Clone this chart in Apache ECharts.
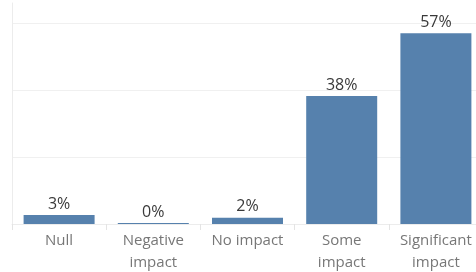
<!DOCTYPE html>
<html>
<head>
<meta charset="utf-8">
<script src="https://cdn.jsdelivr.net/npm/echarts@6/dist/echarts.min.js"></script>
<style>
  html, body { margin: 0; padding: 0; background: #fff; }
  #chart { width: 476px; height: 272px; }
</style>
</head>
<body>
<div id="chart"></div>
<script>
// categories and share of answers (percent)
const categories = ['Null', 'Negative\nimpact', 'No impact', 'Some\nimpact', 'Significant\nimpact']
const shares = [2.7, 0.3, 1.9, 38.2, 57.0]
const yTicks = [0, 20, 40, 60]

const barColor = '#5681ad'
const fontFamily = '"Open Sans", "Noto Sans", sans-serif'

const chart = echarts.init(document.getElementById('chart'))

chart.setOption({
  animation: false,
  grid: {
    left: 12,
    width: 471,
    top: 3,
    bottom: 48,
    outerBoundsMode: 'none',
    containLabel: false
  },
  xAxis: {
    type: 'category',
    data: categories,
    axisLine: { show: true, lineStyle: { color: '#ececec' } },
    axisTick: { show: true, length: 6, lineStyle: { color: '#e4e4e4' } },
    axisLabel: {
      color: '#777',
      fontFamily: fontFamily,
      fontSize: 15,
      lineHeight: 22,
      margin: 6
    }
  },
  yAxis: {
    type: 'value',
    min: 0,
    max: 66,
    interval: yTicks[1] - yTicks[0],
    axisLine: { show: true, lineStyle: { color: '#ececec' } },
    axisTick: { show: false },
    axisLabel: { show: false },
    splitLine: {
      show: true,
      showMinLine: false,
      showMaxLine: false,
      lineStyle: { color: '#f0f0f0' }
    }
  },
  series: [{
    type: 'bar',
    data: shares,
    barWidth: 71,
    itemStyle: { color: barColor },
    label: {
      show: true,
      position: 'top',
      distance: 3,
      color: '#3a3a3a',
      fontFamily: fontFamily,
      fontSize: 16,
      formatter: p => Math.round(p.value) + '%'
    }
  }]
})
</script>
</body>
</html>
